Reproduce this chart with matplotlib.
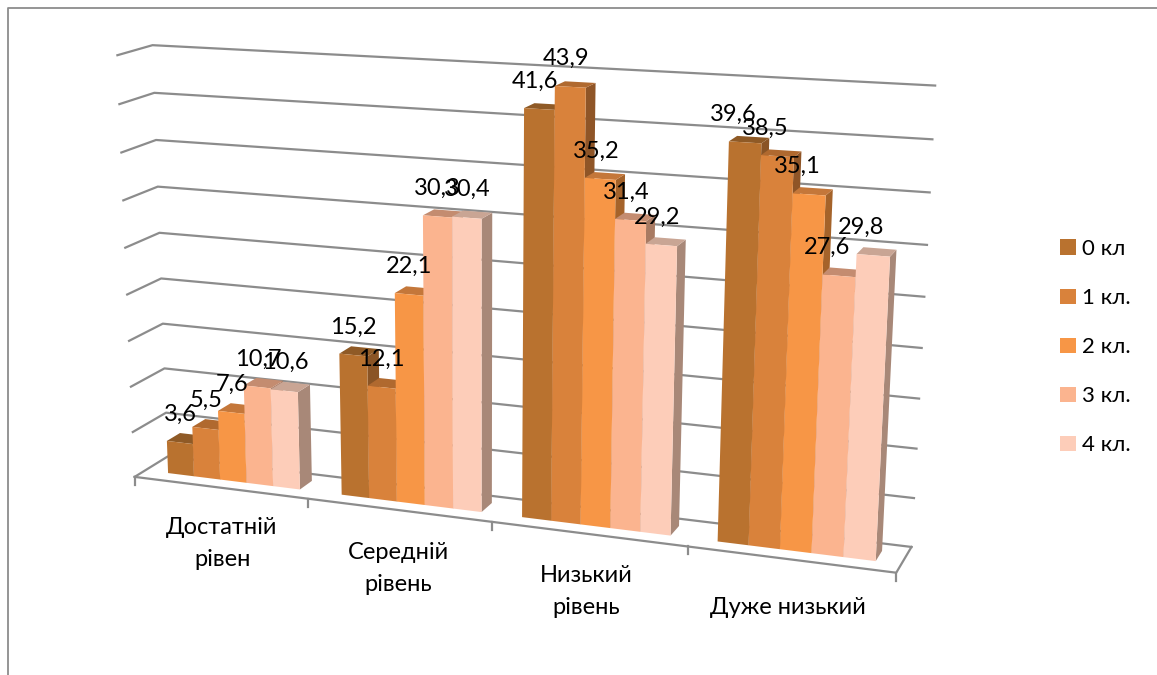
import numpy as np
import matplotlib
matplotlib.use("Agg")
import matplotlib.pyplot as plt
from matplotlib.patches import Polygon, Patch

#--- data ---
categories = ["Достатній\nрівен", "Середній\nрівень", "Низький\nрівень", "Дуже низький"]
classes = ["0 кл", "1 кл.", "2 кл.", "3 кл.", "4 кл."]
kl0 = [3.6, 15.2, 41.6, 39.6]
kl1 = [5.5, 12.1, 43.9, 38.5]
kl2 = [7.6, 22.1, 35.2, 35.1]
kl3 = [10.7, 30.3, 31.4, 27.6]
kl4 = [10.6, 30.4, 29.2, 29.8]
series = [kl0, kl1, kl2, kl3, kl4]
z_ticks = [0, 5, 10, 15, 20, 25, 30, 35, 40, 45]

front_cols = ["#B9722F", "#D9823B", "#F79646", "#FBB48F", "#FDCDB9"]
top_cols = ["#8F5A26", "#B0692F", "#C4773A", "#C48C70", "#C9A594"]
side_cols = ["#8A5425", "#8F5527", "#A5632A", "#A87A62", "#A88878"]

plt.rcParams["font.family"] = ["Lato", "Noto Sans"]

#--- perspective: fit a camera matrix to the box corners of the chart ---
# (category pos, depth, value) -> pixel
anchors = [
    ((0, 0, 0), (137, 476)), ((1, 0, 0), (309, 498)), ((2, 0, 0), (492, 522)),
    ((3, 0, 0), (686, 547)), ((4, 0, 0), (897, 574)), ((4, 1, 0), (912, 545)),
    ((0, 1, 0), (165, 458)), ((0, 1, 45), (155, 45)), ((4, 1, 45), (935, 86)),
    ((0, 0, 45), (115, 55)),
]


def fit_camera(pts):
    rows = []
    for (u, v, z), (px, py) in pts:
        X = [u, v, z / 45, 1]
        rows.append(X + [0, 0, 0, 0] + [-px / 1000 * c for c in X])
        rows.append([0, 0, 0, 0] + X + [-py / 1000 * c for c in X])
    return np.linalg.svd(np.array(rows))[2][-1].reshape(3, 4)


cam = fit_camera(anchors)


def proj(u, v, z):
    p = cam @ np.array([u, v, z / 45, 1])
    return (p[0] / p[2] * 1000, p[1] / p[2] * 1000)


#--- figure ---
fig = plt.figure(figsize=(11.57, 6.75), dpi=100)
ax = fig.add_axes([0, 0, 1, 1])
ax.set_xlim(0, 1157)
ax.set_ylim(675, 0)
ax.axis("off")

# chart area border, runs off the picture on the right and bottom
ax.plot([1170, 8, 8], [8, 8, 690], color="#8C8C8C", lw=1.3)

grid = "#8C8C8C"
for z in z_ticks:
    a, b, c = proj(0, 0, z), proj(0, 1, z), proj(4, 1, z)
    ax.plot([a[0], b[0], c[0]], [a[1], b[1], c[1]], color=grid, lw=1.6, zorder=1)

# floor
floor = [proj(0, 0, 0), proj(4, 0, 0), proj(4, 1, 0)]
ax.plot(*zip(*floor), color=grid, lw=1.6, zorder=1)
for i in range(5):
    a = proj(i, 0, 0)
    ax.plot([a[0], a[0]], [a[1], a[1] + 8], color=grid, lw=1.6, zorder=1)

# bars, left to right
gap_l = [0.135, 0.135, 0.115, 0.115]
bar_w = 0.153
v0, v1 = 0.32, 0.72
z = 3
for c in range(len(categories)):
    for s, vals in enumerate(series):
        u0 = c + gap_l[c] + s * bar_w
        u1 = u0 + bar_w
        h = vals[c]
        side = [proj(u1, v0, 0), proj(u1, v1, 0), proj(u1, v1, h), proj(u1, v0, h)]
        top = [proj(u0, v0, h), proj(u1, v0, h), proj(u1, v1, h), proj(u0, v1, h)]
        front = [proj(u0, v0, 0), proj(u1, v0, 0), proj(u1, v0, h), proj(u0, v0, h)]
        ax.add_patch(Polygon(side, fc=side_cols[s], ec="none", zorder=z))
        ax.add_patch(Polygon(top, fc=top_cols[s], ec="none", zorder=z))
        ax.add_patch(Polygon(front, fc=front_cols[s], ec="none", zorder=z))
        z += 1

# value labels on top of everything
label_dx = [1, 0, -4, -12]
for c in range(len(categories)):
    for s, vals in enumerate(series):
        u = c + gap_l[c] + (s + 0.5) * bar_w
        x, y = proj(u, v0, vals[c])
        ax.annotate(str(vals[c]).replace(".", ","), (x, y), xytext=(label_dx[c], 28),
                    textcoords="offset pixels", ha="center", va="center",
                    fontsize=17, color="black", zorder=100)

# category labels
cat_dy = [29, 32, 31, 38]
cat_dx = [2, 0, -2, -2]
for c, name in enumerate(categories):
    x, y = proj(c + 0.5, 0, 0)
    ax.annotate(name, (x, y), xytext=(cat_dx[c], -cat_dy[c]), textcoords="offset pixels",
                ha="center", va="top", fontsize=17, linespacing=1.65, zorder=100)

handles = [Patch(fc=col, ec="none") for col in front_cols]
ax.legend(handles, classes, loc="upper left", bbox_to_anchor=(1060 / 1157, 1 - 239 / 675),
          frameon=False, fontsize=16, handlelength=0.7, handleheight=0.7,
          labelspacing=1.31, handletextpad=0.28, borderpad=0, borderaxespad=0)

fig.savefig("out.png", dpi=100)
